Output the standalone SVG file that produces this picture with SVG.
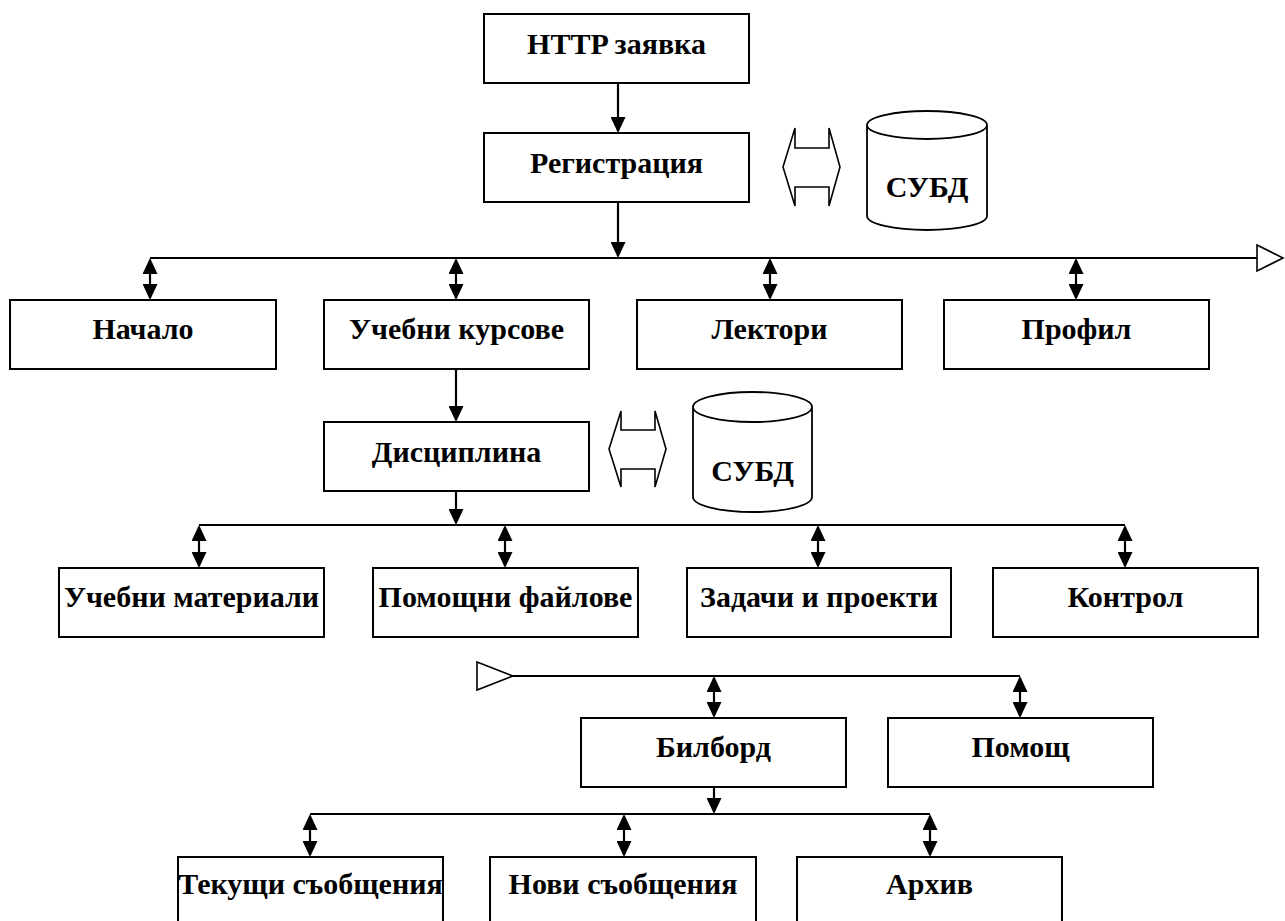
<svg xmlns="http://www.w3.org/2000/svg" width="1285" height="921" viewBox="0 0 1285 921">
<style>
.box{fill:#fff;stroke:#000;stroke-width:2}
.lbl{font-family:"Liberation Serif","Times New Roman",serif;font-weight:bold;font-size:30px;fill:#000;text-anchor:middle}
.ln{stroke:#000;stroke-width:2.2;fill:none}
.hol{fill:#fff;stroke:#000;stroke-width:1.6;stroke-linejoin:miter}
.cyl{fill:#fff;stroke:#000;stroke-width:1.8}
</style>
<defs>
<marker id="ah" markerUnits="userSpaceOnUse" markerWidth="16" markerHeight="15" refX="14" refY="7.5" orient="auto-start-reverse">
<path d="M0,0 L16,7.5 L0,15 z" fill="#000"/>
</marker>
</defs>
<rect width="1285" height="921" fill="#fff"/>

<g id="connectors">
<line class="ln" x1="618" y1="83" x2="618" y2="131" marker-end="url(#ah)"/>
<line class="ln" x1="618" y1="202" x2="618" y2="256" marker-end="url(#ah)"/>
<line class="ln" x1="150" y1="258" x2="1257" y2="258"/>
<polygon class="hol" points="1257,245 1283,258 1257,271"/>
<line class="ln" x1="150" y1="260" x2="150" y2="298" marker-start="url(#ah)" marker-end="url(#ah)"/>
<line class="ln" x1="456" y1="260" x2="456" y2="298" marker-start="url(#ah)" marker-end="url(#ah)"/>
<line class="ln" x1="770" y1="260" x2="770" y2="298" marker-start="url(#ah)" marker-end="url(#ah)"/>
<line class="ln" x1="1076" y1="260" x2="1076" y2="298" marker-start="url(#ah)" marker-end="url(#ah)"/>
<line class="ln" x1="456" y1="369" x2="456" y2="420" marker-end="url(#ah)"/>
<line class="ln" x1="456" y1="491" x2="456" y2="523" marker-end="url(#ah)"/>
<line class="ln" x1="199" y1="525" x2="1125" y2="525"/>
<line class="ln" x1="199" y1="527" x2="199" y2="566" marker-start="url(#ah)" marker-end="url(#ah)"/>
<line class="ln" x1="505" y1="527" x2="505" y2="566" marker-start="url(#ah)" marker-end="url(#ah)"/>
<line class="ln" x1="818" y1="527" x2="818" y2="566" marker-start="url(#ah)" marker-end="url(#ah)"/>
<line class="ln" x1="1125" y1="527" x2="1125" y2="566" marker-start="url(#ah)" marker-end="url(#ah)"/>
<polygon class="hol" points="477,662 513,676 477,690"/>
<line class="ln" x1="513" y1="676" x2="1020" y2="676"/>
<line class="ln" x1="714" y1="678" x2="714" y2="716" marker-start="url(#ah)" marker-end="url(#ah)"/>
<line class="ln" x1="1020" y1="678" x2="1020" y2="716" marker-start="url(#ah)" marker-end="url(#ah)"/>
<line class="ln" x1="714" y1="787" x2="714" y2="812" marker-end="url(#ah)"/>
<line class="ln" x1="310" y1="814" x2="930" y2="814"/>
<line class="ln" x1="310" y1="816" x2="310" y2="855" marker-start="url(#ah)" marker-end="url(#ah)"/>
<line class="ln" x1="624" y1="816" x2="624" y2="855" marker-start="url(#ah)" marker-end="url(#ah)"/>
<line class="ln" x1="930" y1="816" x2="930" y2="855" marker-start="url(#ah)" marker-end="url(#ah)"/>
<polygon class="hol" points="783,167 795,128 795,148 829,148 829,128 840,167 829,206 829,187 795,187 795,206"/>
<polygon class="hol" points="609,449 621,411 621,430 655,430 655,411 666,449 655,487 655,469 621,469 621,487"/>
</g>

<g id="n-http"><rect class="box" x="484" y="14" width="265" height="69"/><text class="lbl" x="616.5" y="54">HTTP заявка</text></g>
<g id="n-reg"><rect class="box" x="484" y="133" width="265" height="69"/><text class="lbl" x="616.5" y="173">Регистрация</text></g>
<g id="n-db1"><path class="cyl" d="M867,125 A60,14 0 0,1 987,125 A60,14 0 0,1 867,125 M867,125 L867,216 A60,14 0 0,0 987,216 L987,125"/><text class="lbl" x="927" y="197">СУБД</text></g>

<g id="n-nachalo"><rect class="box" x="10" y="300" width="266" height="69"/><text class="lbl" x="143" y="339">Начало</text></g>
<g id="n-kursove"><rect class="box" x="324" y="300" width="265" height="69"/><text class="lbl" x="456.5" y="339">Учебни курсове</text></g>
<g id="n-lektori"><rect class="box" x="637" y="300" width="265" height="69"/><text class="lbl" x="769.5" y="339">Лектори</text></g>
<g id="n-profil"><rect class="box" x="944" y="300" width="265" height="69"/><text class="lbl" x="1076.5" y="339">Профил</text></g>

<g id="n-disc"><rect class="box" x="324" y="422" width="265" height="69"/><text class="lbl" x="456.5" y="462">Дисциплина</text></g>
<g id="n-db2"><path class="cyl" d="M693,407 A59.5,15 0 0,1 812,407 A59.5,15 0 0,1 693,407 M693,407 L693,497 A59.5,15 0 0,0 812,497 L812,407"/><text class="lbl" x="752.5" y="481">СУБД</text></g>

<g id="n-mat"><rect class="box" x="59" y="568" width="265" height="69"/><text class="lbl" x="191.5" y="607">Учебни материали</text></g>
<g id="n-files"><rect class="box" x="373" y="568" width="265" height="69"/><text class="lbl" x="505.5" y="607">Помощни файлове</text></g>
<g id="n-tasks"><rect class="box" x="687" y="568" width="264" height="69"/><text class="lbl" x="819" y="607">Задачи и проекти</text></g>
<g id="n-control"><rect class="box" x="993" y="568" width="265" height="69"/><text class="lbl" x="1125.5" y="607">Контрол</text></g>

<g id="n-bilbord"><rect class="box" x="581" y="718" width="265" height="69"/><text class="lbl" x="713.5" y="757">Билборд</text></g>
<g id="n-pomosht"><rect class="box" x="888" y="718" width="265" height="69"/><text class="lbl" x="1020.5" y="757">Помощ</text></g>

<g id="n-tekushti"><rect class="box" x="178" y="857" width="265" height="72"/><text class="lbl" x="310.5" y="894">Текущи съобщения</text></g>
<g id="n-novi"><rect class="box" x="490" y="857" width="266" height="72"/><text class="lbl" x="623" y="894">Нови съобщения</text></g>
<g id="n-arhiv"><rect class="box" x="797" y="857" width="265" height="72"/><text class="lbl" x="929.5" y="894">Архив</text></g>
</svg>
